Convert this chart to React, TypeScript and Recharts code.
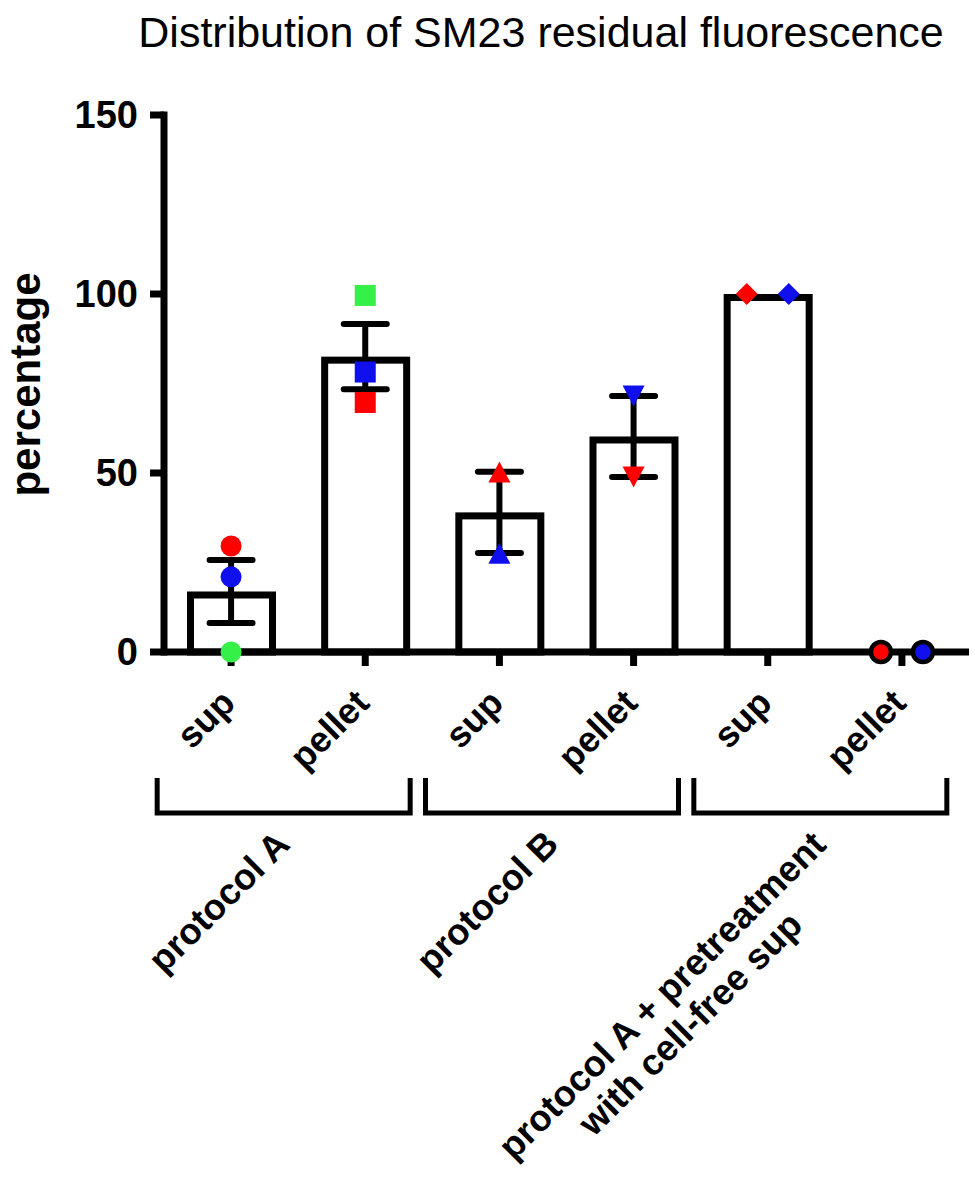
import React from 'react';
import { ComposedChart, Bar, Scatter, XAxis, YAxis, ErrorBar } from 'recharts';

const title = 'Distribution of SM23 residual fluorescence';
const yLabel = 'percentage';

// x categories, two per protocol
const categories = ['sup', 'pellet', 'sup', 'pellet', 'sup', 'pellet'];
const groupKeys = ['A', 'A', 'B', 'B', 'C', 'C'];
const groupLabels = [
  ['protocol A'],
  ['protocol B'],
  ['protocol A + pretreatment', 'with cell-free sup'],
];

// bar heights (mean) and SEM
const means = [16.9, 82.5, 39.0, 60.2, 100, 0];
const sems = [8.8, 9.1, 11.35, 11.3, 0, 0];

// single replicates
const redValues = [29.6, 69.7, 50.3, 48.9, 100, 0];
const blueValues = [21.0, 78.2, 27.6, 71.5, 100, 0];
const greenValues = [0, 99.6, null, null, null, null];

const yTicks = [0, 50, 100, 150];

// styles
const FONT = '"Liberation Sans", Arial, Helvetica, sans-serif';
const COLORS: Record<string, string> = { red: '#FF0000', blue: '#1010EE', green: '#35F047' };
const MARKERS = ['circle', 'square', 'triangleUp', 'triangleDown', 'diamond', 'ring'];
const SPREAD = 42; // px between points sharing the same value
const TICK_FONT = 36;
const GROUP_FONT = 36.5;

const seriesKeys = ['red', 'blue', 'green'];
const seriesValues: Record<string, (number | null)[]> = {
  red: redValues,
  blue: blueValues,
  green: greenValues,
};

const rows = categories.map((cat, i) => {
  const spread: Record<string, number> = {};
  seriesKeys.forEach((k) => {
    const v = seriesValues[k][i];
    if (v == null) return;
    const same = seriesKeys.filter((o) => seriesValues[o][i] === v);
    const slot = same.indexOf(k);
    spread[k] = (slot - (same.length - 1) / 2) * SPREAD;
  });
  return {
    id: `${groupKeys[i]}-${cat}`,
    group: groupKeys[i],
    idx: i,
    mean: means[i],
    sem: sems[i],
    red: redValues[i],
    blue: blueValues[i],
    green: greenValues[i],
    spread,
  };
});

let measureCtx: CanvasRenderingContext2D | null = null;
function measure(text: string, font: string) {
  if (!measureCtx) measureCtx = document.createElement('canvas').getContext('2d');
  if (!measureCtx) return text.length * 18;
  measureCtx.font = font;
  return measureCtx.measureText(text).width;
}

const Marker = ({ kind, x, y, color }: { kind: string; x: number; y: number; color: string }) => {
  switch (kind) {
    case 'square':
      return <rect x={x - 10.5} y={y - 10.5} width={21} height={21} fill={color} />;
    case 'triangleUp':
      return <polygon points={`${x},${y - 10.5} ${x + 11},${y + 10.5} ${x - 11},${y + 10.5}`} fill={color} />;
    case 'triangleDown':
      return <polygon points={`${x - 11},${y - 10.5} ${x + 11},${y - 10.5} ${x},${y + 10.5}`} fill={color} />;
    case 'diamond':
      return <polygon points={`${x},${y - 11} ${x + 11},${y} ${x},${y + 11} ${x - 11},${y}`} fill={color} />;
    case 'ring':
      return <circle cx={x} cy={y} r={10} fill={color} stroke="#000" strokeWidth={4.5} />;
    default:
      return <circle cx={x} cy={y} r={10.5} fill={color} />;
  }
};

const pointShape = (key: string) => (props: any) => {
  const { cx, cy, payload } = props;
  if (!payload || payload[key] == null || cx == null || cy == null) return <g />;
  const dx = payload.spread?.[key] ?? 0;
  return <Marker kind={MARKERS[payload.idx]} x={cx + dx} y={cy} color={COLORS[key]} />;
};

// GraphPad draws the outline inside the bar edge
const OutlineBar = (props: any) => {
  const { x, y, width, height } = props;
  if (!(height > 0)) return <g />;
  return (
    <rect x={x + 3.5} y={y + 3.5} width={width - 7} height={height - 3.5} fill="#fff" stroke="#000" strokeWidth={7} />
  );
};

const CategoryTick = (props: any) => {
  const { x, y, index } = props;
  return (
    <text
      transform={`translate(${x + 6},${y + 37}) rotate(-45)`}
      textAnchor="end"
      fontFamily={FONT}
      fontWeight="bold"
      fontSize={TICK_FONT}
      fill="#000"
    >
      {categories[index]}
    </text>
  );
};

const GroupTick = (props: any) => {
  const { x, y, index } = props;
  const lines = groupLabels[index] ?? [];
  const font = `bold ${GROUP_FONT}px ${FONT}`;
  const longest = Math.max(...lines.map((l) => measure(l, font)));
  return (
    <g>
      <polyline
        points={`${x - 141},${y + 6} ${x - 141},${y + 41} ${x + 112},${y + 41} ${x + 112},${y + 6}`}
        fill="none"
        stroke="#000"
        strokeWidth={5}
      />
      <g transform={`translate(${x - 6},${y + 74}) rotate(-45)`}>
        {lines.map((ln, i) => (
          <text
            key={i}
            x={-longest / 2}
            y={i * 40}
            textAnchor="middle"
            fontFamily={FONT}
            fontWeight="bold"
            fontSize={GROUP_FONT}
            fill="#000"
          >
            {ln}
          </text>
        ))}
      </g>
    </g>
  );
};

const YLabel = (props: any) => {
  const vb = props.viewBox || { y: 115, height: 537 };
  return (
    <text
      transform={`translate(40,${vb.y + vb.height / 2 + 1}) rotate(-90)`}
      textAnchor="middle"
      fontFamily={FONT}
      fontWeight="bold"
      fontSize={42}
      fill="#000"
    >
      {yLabel}
    </text>
  );
};

export default function App() {
  return (
    <div style={{ position: 'absolute', left: 0, top: 0, width: 975, height: 1195, background: '#fff' }}>
      <div
        style={{
          position: 'absolute',
          left: 541,
          top: 11,
          transform: 'translateX(-50%)',
          whiteSpace: 'nowrap',
          fontFamily: FONT,
          fontSize: 43,
          lineHeight: '43px',
          color: '#000',
        }}
      >
        {title}
      </div>
      <ComposedChart width={975} height={1195} data={rows} margin={{ top: 115, right: 6, bottom: 23, left: 64 }}>
        <XAxis
          dataKey="id"
          interval={0}
          height={120}
          tickSize={14}
          axisLine={{ stroke: '#000', strokeWidth: 7 }}
          tickLine={{ stroke: '#000', strokeWidth: 7 }}
          tick={(p: any) => <CategoryTick {...p} />}
        />
        <XAxis
          xAxisId="grp"
          dataKey="group"
          allowDuplicatedCategory={false}
          interval={0}
          height={400}
          tickSize={0}
          tickMargin={0}
          axisLine={false}
          tickLine={false}
          tick={(p: any) => <GroupTick {...p} />}
        />
        <YAxis
          type="number"
          domain={[0, 150]}
          ticks={yTicks}
          width={100}
          tickSize={14}
          tickMargin={12}
          axisLine={{ stroke: '#000', strokeWidth: 7, strokeLinecap: 'square' }}
          tickLine={{ stroke: '#000', strokeWidth: 7 }}
          tick={{ fill: '#000', fontFamily: FONT, fontWeight: 'bold', fontSize: 38 }}
          label={{ content: (p: any) => <YLabel {...p} /> }}
        />
        <Bar dataKey="mean" barSize={89} shape={(p: any) => <OutlineBar {...p} />} isAnimationActive={false} />
        <Scatter dataKey="red" shape={pointShape('red')} isAnimationActive={false} />
        <Scatter dataKey="blue" shape={pointShape('blue')} isAnimationActive={false} />
        <Scatter dataKey="green" shape={pointShape('green')} isAnimationActive={false} />
        <Scatter dataKey="mean" shape={() => <g />} isAnimationActive={false}>
          <ErrorBar
            dataKey="sem"
            direction="y"
            width={21.5}
            stroke="#000"
            strokeWidth={6}
            strokeLinecap="round"
            isAnimationActive={false}
          />
        </Scatter>
      </ComposedChart>
    </div>
  );
}
